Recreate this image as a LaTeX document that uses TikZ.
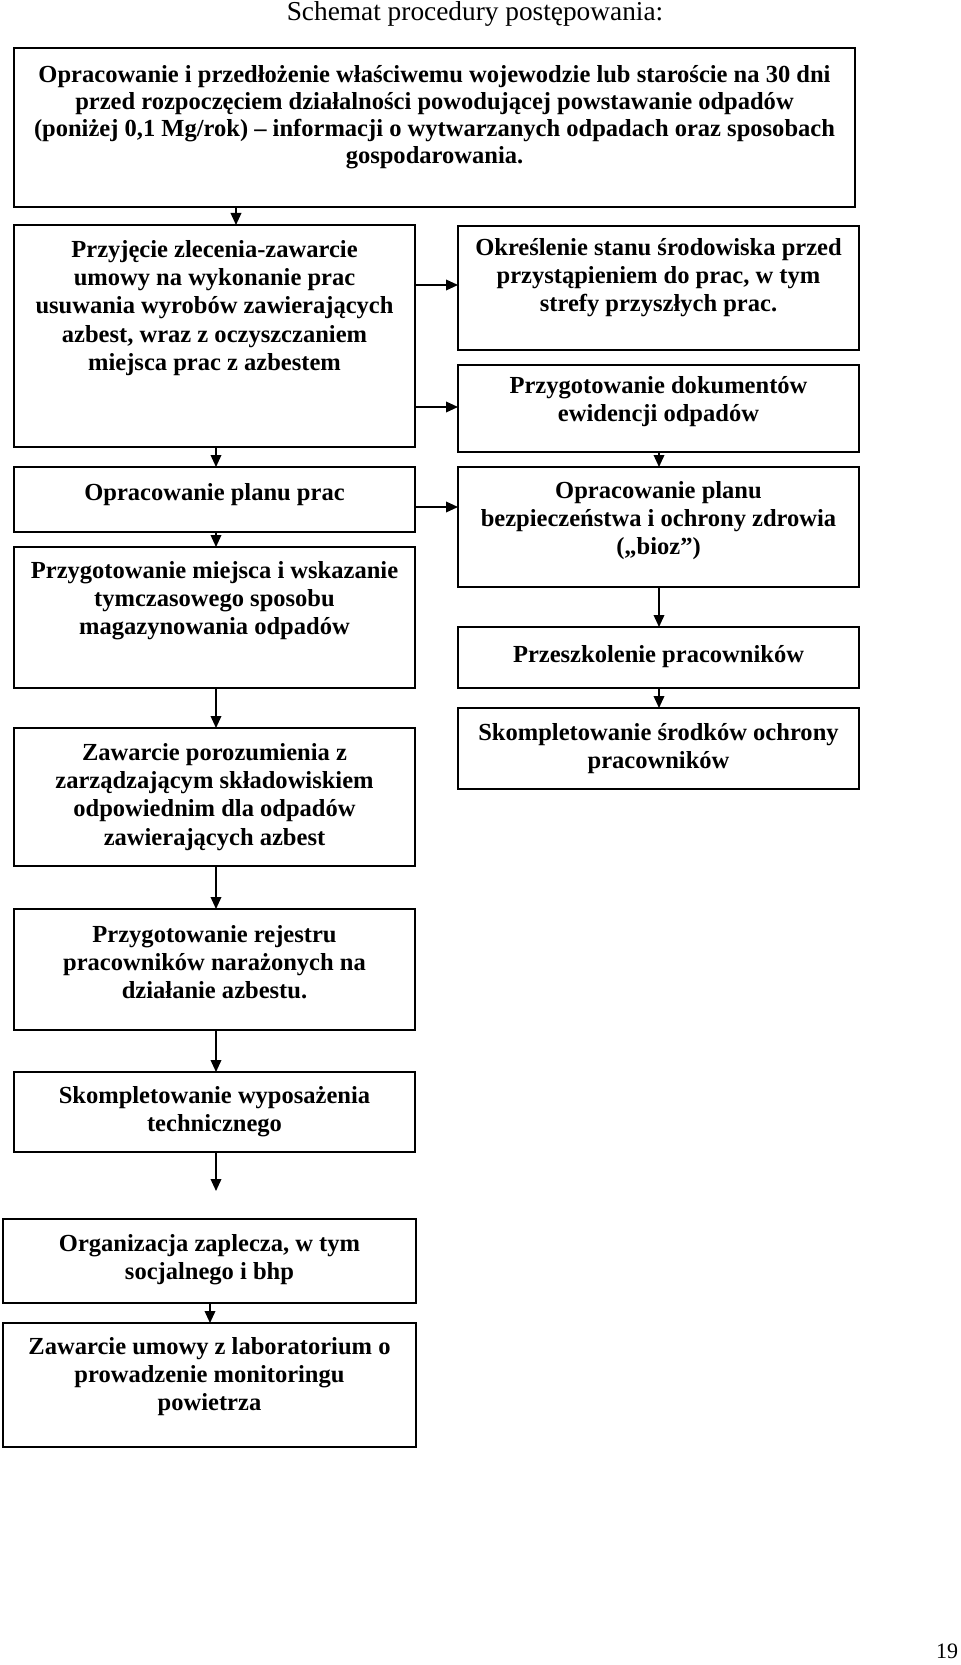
\documentclass[tikz,border=0pt]{standalone}
\usepackage{fontspec}
\setmainfont{Liberation Serif}
\usetikzlibrary{arrows.meta}
\newcommand\fstrut{\rule{0pt}{14pt}}
\newcommand\pbox[5]{\node[procbox, anchor=north west, minimum width={(#4-#2)*0.75pt}, minimum height={(#5-#3)*0.75pt}] (#1) at (#2,#3) {};}
\newcommand\ptext[4]{\node[boxtext, anchor=north] (#1) at (#2,#3-18.67) {\fstrut#4};}
\begin{document}
\begin{tikzpicture}[x=0.75pt,y=-0.75pt,
  procbox/.style={draw=black, line width=1.2pt, inner sep=0pt, outer sep=0pt, fill=none},
  boxtext/.style={align=center, inner sep=0pt, font=\fontsize{18.4}{21.2}\selectfont\bfseries},
  widetext/.style={boxtext, font=\fontsize{18.4}{20.25}\selectfont\bfseries},
  arr/.style={draw=black, line width=1.1pt, -{Triangle[length=9pt,width=8pt]}},
  titletext/.style={font=\fontsize{20.5}{24}\selectfont, inner sep=0pt},
  pagenum/.style={font=\fontsize{16.5}{20}\selectfont, inner sep=0pt}]
\useasboundingbox (0,0) rectangle (960,1665);

\node[titletext, anchor=base] (title) at (475,20.5) {Schemat procedury postępowania:};
\node[pagenum, anchor=base] (page) at (947,1658) {19};

% boxes
\pbox{b1}{14}{48}{855}{207}
\pbox{b2}{14}{225}{415}{447}
\pbox{r1}{458}{226}{859}{350}
\pbox{r2}{458}{365}{859}{452}
\pbox{b3}{14}{467}{415}{532}
\pbox{r3}{458}{467}{859}{587}
\pbox{b4}{14}{547}{415}{688}
\pbox{r4}{458}{627}{859}{688}
\pbox{r5}{458}{708}{859}{789}
\pbox{b5}{14}{728}{415}{866}
\pbox{b6}{14}{909}{415}{1030}
\pbox{b7}{14}{1072}{415}{1152}
\pbox{b8}{3}{1219}{416}{1303}
\pbox{b9}{3}{1323}{416}{1447}

% texts
\node[widetext, anchor=north] (t1) at (434.5,82-18.67) {\fstrut Opracowanie i przedłożenie właściwemu wojewodzie lub staroście na 30 dni\\ przed rozpoczęciem działalności powodującej powstawanie odpadów\\ (poniżej 0,1 Mg/rok) – informacji o wytwarzanych odpadach oraz sposobach\\ gospodarowania.};
\ptext{t2}{214.5}{257}{Przyjęcie zlecenia-zawarcie\\ umowy na wykonanie prac\\ usuwania wyrobów zawierających\\ azbest, wraz z oczyszczaniem\\ miejsca prac z azbestem}
\ptext{tr1}{658.5}{255}{Określenie stanu środowiska przed\\ przystąpieniem do prac, w tym\\ strefy przyszłych prac.}
\ptext{tr2}{658.5}{393}{Przygotowanie dokumentów\\ ewidencji odpadów}
\ptext{t3}{214.5}{500}{Opracowanie planu prac}
\ptext{tr3}{658.5}{498}{Opracowanie planu\\ bezpieczeństwa i ochrony zdrowia\\ („bioz”)}
\ptext{t4}{214.5}{578}{Przygotowanie miejsca i wskazanie\\ tymczasowego sposobu\\ magazynowania odpadów}
\ptext{tr4}{658.5}{662}{Przeszkolenie pracowników}
\ptext{tr5}{658.5}{740}{Skompletowanie środków ochrony\\ pracowników}
\ptext{t5}{214.5}{760}{Zawarcie porozumienia z\\ zarządzającym składowiskiem\\ odpowiednim dla odpadów\\ zawierających azbest}
\ptext{t6}{214.5}{942}{Przygotowanie rejestru\\ pracowników narażonych na\\ działanie azbestu.}
\ptext{t7}{214.5}{1103}{Skompletowanie wyposażenia\\ technicznego}
\ptext{t8}{209.5}{1251}{Organizacja zaplecza, w tym\\ socjalnego i bhp}
\ptext{t9}{209.5}{1354}{Zawarcie umowy z laboratorium o\\ prowadzenie monitoringu\\ powietrza}

% arrow guide coordinates
\coordinate (xa) at (236,0);
\coordinate (xl) at (216,0);
\coordinate (xr) at (659,0);
\coordinate (xb) at (210,0);
\coordinate (y1) at (0,285);
\coordinate (y2) at (0,407);
\coordinate (y3) at (0,507);
\coordinate (e13) at (216,1191);

% connectors
\draw[arr] (b1.south -| xa) -- (b2.north -| xa);
\draw[arr] (b2.east |- y1) -- (r1.west |- y1);
\draw[arr] (b2.east |- y2) -- (r2.west |- y2);
\draw[arr] (b2.south -| xl) -- (b3.north -| xl);
\draw[arr] (b3.south -| xl) -- (b4.north -| xl);
\draw[arr] (b3.east |- y3) -- (r3.west |- y3);
\draw[arr] (r2.south -| xr) -- (r3.north -| xr);
\draw[arr] (r3.south -| xr) -- (r4.north -| xr);
\draw[arr] (r4.south -| xr) -- (r5.north -| xr);
\draw[arr] (b4.south -| xl) -- (b5.north -| xl);
\draw[arr] (b5.south -| xl) -- (b6.north -| xl);
\draw[arr] (b6.south -| xl) -- (b7.north -| xl);
\draw[arr] (b7.south -| xl) -- (e13);
\draw[arr] (b8.south -| xb) -- (b9.north -| xb);
\end{tikzpicture}
\end{document}
